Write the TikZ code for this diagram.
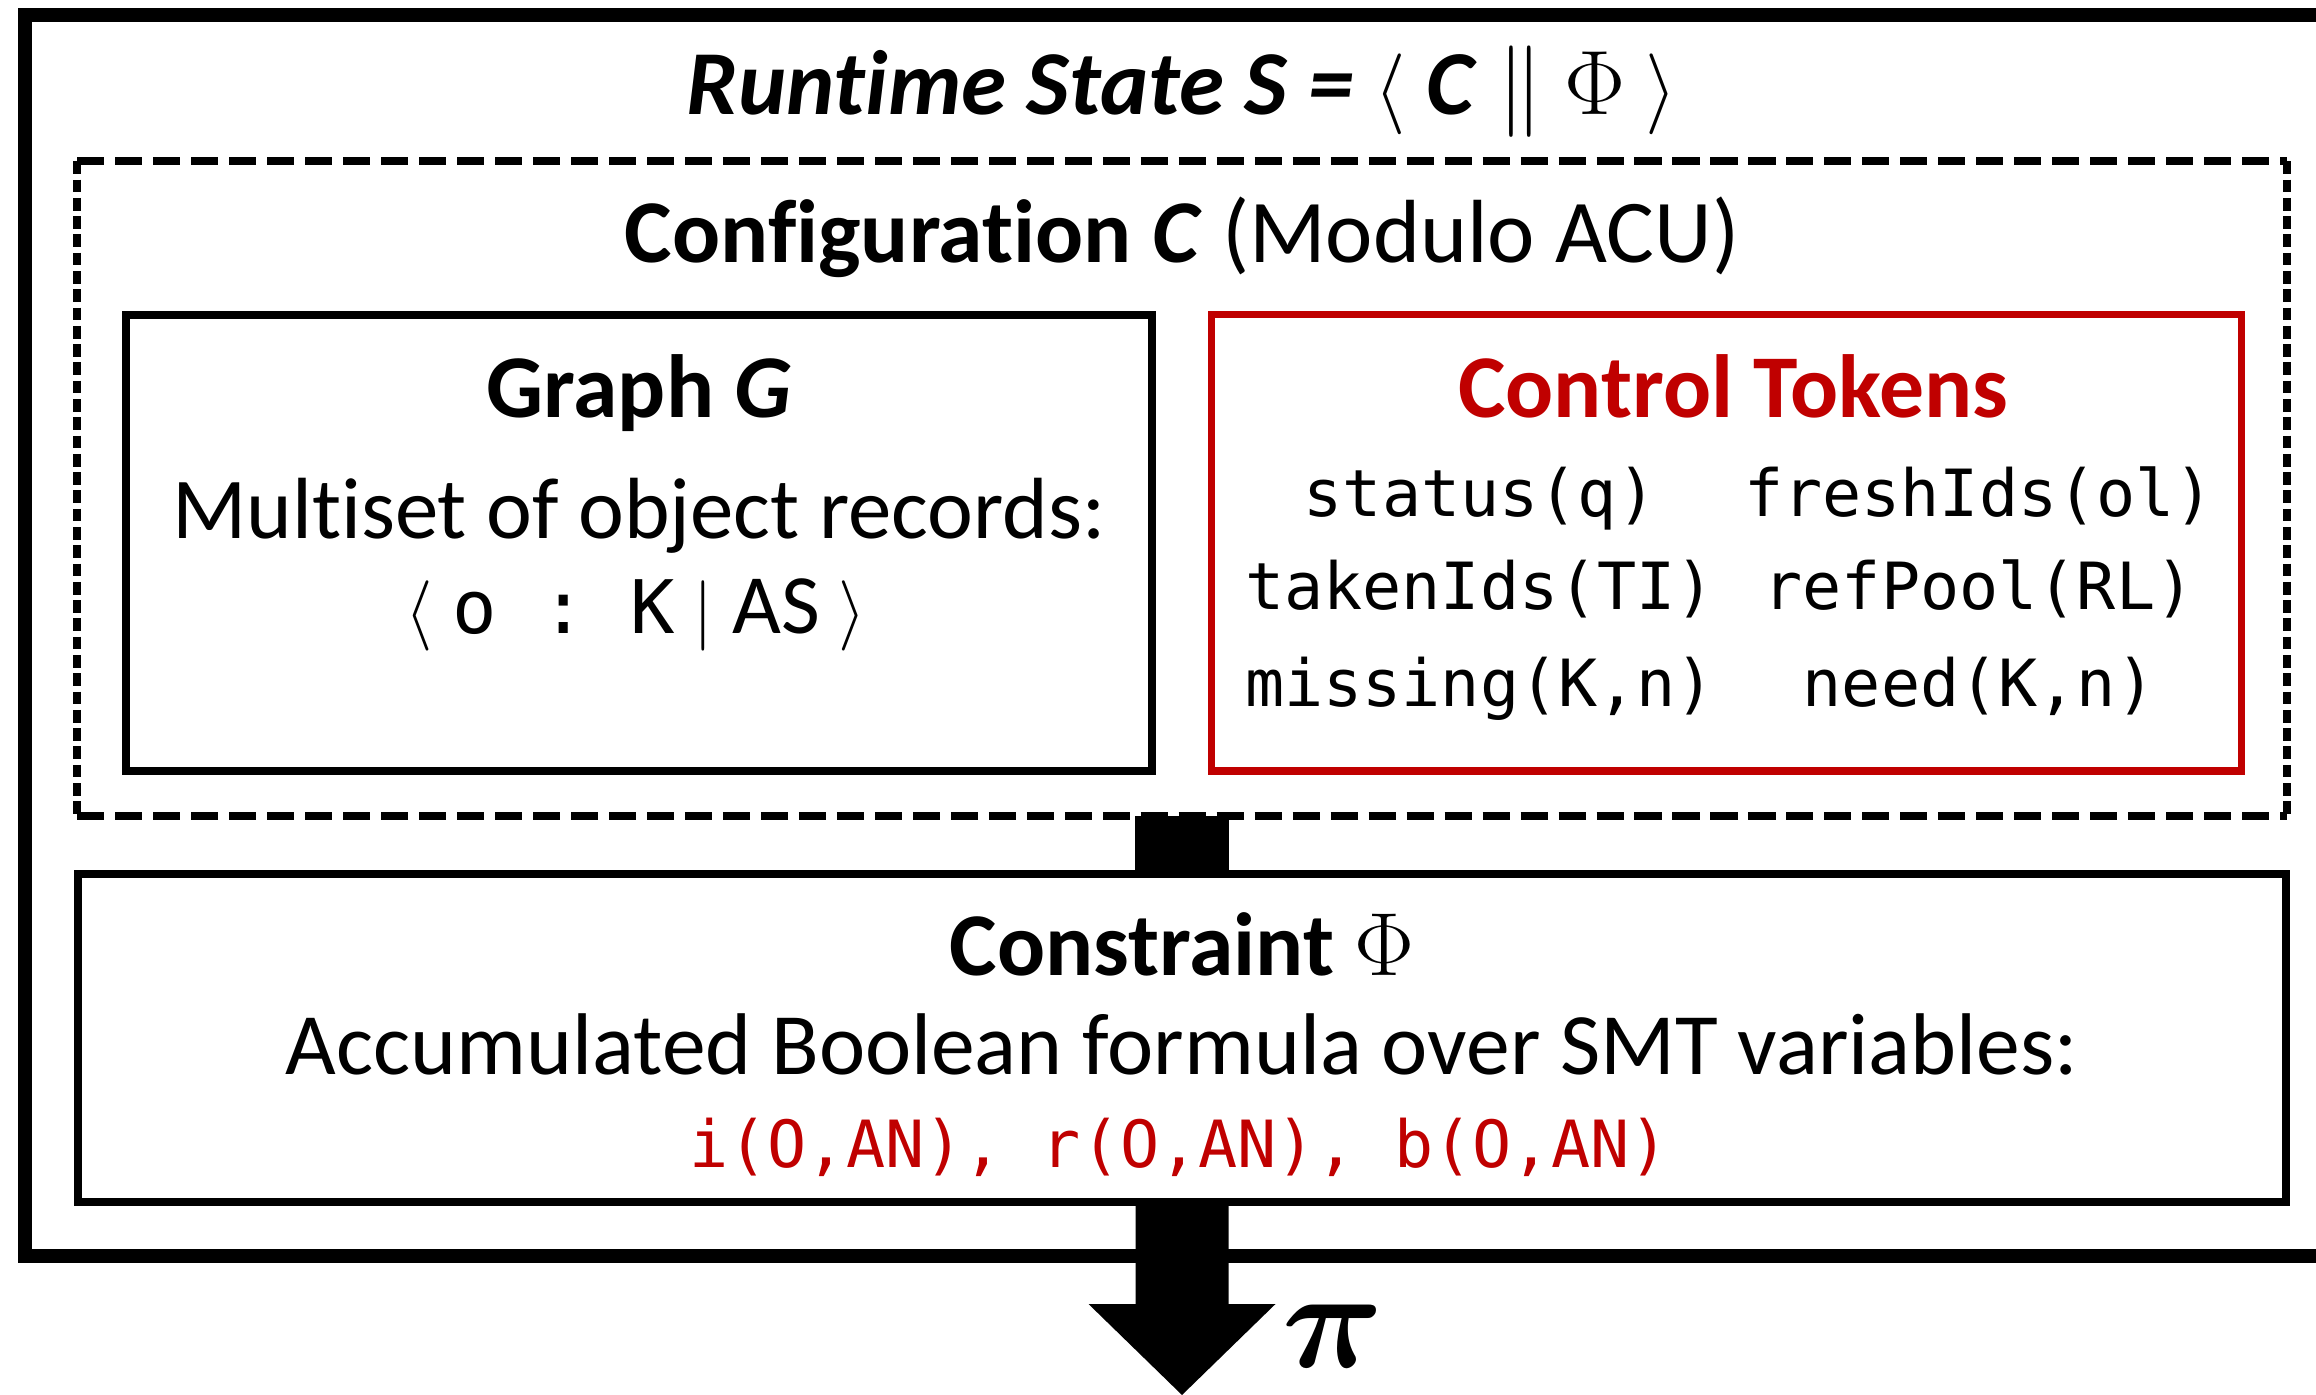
\RequirePackage{fix-cm}
\documentclass[tikz,border=0pt]{standalone}
\usepackage[no-math]{fontspec}
\setmainfont[Ligatures=NoCommon]{Carlito}
\setmonofont{DejaVu Sans Mono}
\usepackage{bm}
\usetikzlibrary{fit,calc}
\definecolor{tokred}{RGB}{192,0,0}

\tikzset{
  px/.style={line width=#1*0.2845pt},
  outerbox/.style={draw, px=14},
  plainbox/.style={draw, px=8, inner sep=0pt},
  redbox/.style={draw=tokred, px=7, inner sep=0pt},
  hdash/.style={px=8, dash pattern=on 7.7pt off 3.1pt},
  vdash/.style={px=8, dash pattern=on 3.6pt off 1.6pt},
  txt/.style={anchor=base, inner sep=0pt},
  big/.style={txt, font=\fontsize{25.5}{30}\selectfont},
  tok/.style={txt, font=\fontsize{18.5}{22}\selectfont\ttfamily},
  blockline/.style={px=93},
}
% angle brackets at a fixed size
\newcommand{\lang}[1]{{\fontsize{#1}{#1}\selectfont$\langle$}}
\newcommand{\rang}[1]{{\fontsize{#1}{#1}\selectfont$\rangle$}}

\begin{document}
\begin{tikzpicture}[x=0.01cm, y=-0.01cm]
\useasboundingbox (0,0) rectangle (2316,1395);
\clip (0,0) rectangle (2316,1395);
\fill[white] (0,0) rectangle (2316,1395);

% runtime state frame (runs past the right edge)
\draw[outerbox] (2400,15) -- (25,15) -- (25,1256) -- (2400,1256);
\node[txt, font=\fontsize{26}{30}\selectfont] (title) at (1182,115)
  {\textbf{\textit{Runtime State S =}} \lang{23} \textbf{\textit{C}} $\|$ $\Phi$ \rang{23}};

% configuration (dashed)
\node[inner sep=0pt, fit={(78,162) (2286,815)}] (cfg) {};
\draw[hdash] (cfg.north west) -- (cfg.north east);
\draw[hdash] (cfg.south west) -- (cfg.south east);
\draw[vdash] (cfg.north west) -- (cfg.south west);
\draw[vdash] (cfg.north east) -- (cfg.south east);
\node[big] (cfgtitle) at (1182,263)
  {\textbf{Configuration \textit{C}} (Modulo ACU)};

% graph G
\node[plainbox, fit={(126,315) (1152,771)}] (graph) {};
\node[big] (graphtitle) at (639,418) {\textbf{Graph \textit{G}}};
\node[txt, font=\fontsize{24.7}{28}\selectfont] (graphline) at (639,539) {Multiset of object records:};
\node[txt, font=\fontsize{24}{28}\selectfont] (graphrec) at (636,634)
  {\lang{20} {\ttfamily\fontsize{21}{24}\selectfont o : K} {\fontsize{20}{20}\selectfont$|$} AS \rang{20}};

% control tokens
\node[redbox, fit={(1211,315) (2241,771)}] (ctrl) {};
\node[big, text=tokred] (ctrltitle) at (1733,418) {\textbf{Control Tokens}};
\node[tok] (t11) at (1480,517) {status(q)};
\node[tok] (t12) at (1979,517) {freshIds(ol)};
\node[tok] (t21) at (1480,610) {takenIds(TI)};
\node[tok] (t22) at (1979,610) {refPool(RL)};
\node[tok] (t31) at (1480,706) {missing(K,n)};
\node[tok] (t32) at (1979,706) {need(K,n)};

% constraint
\node[plainbox, fit={(78,874) (2286,1202)}] (con) {};
\node[big] (contitle) at (1182,975) {\textbf{Constraint} $\Phi$};
\node[txt, font=\fontsize{24.9}{28}\selectfont] (conline) at (1182,1074) {Accumulated Boolean formula over SMT variables:};
\node[tok, text=tokred] (convars) at (1179,1167) {i(O,AN), r(O,AN), b(O,AN)};

% block connectors
\draw[blockline] (cfg.south) -- (con.north);
\coordinate (tip) at (1182,1395);
\fill ($(con.south)+(-46.5,0)$) -- ($(con.south)+(46.5,0)$)
  -- ($(tip)+(46.5,-91)$) -- ($(tip)+(93.5,-91)$) -- (tip)
  -- ($(tip)+(-93.5,-91)$) -- ($(tip)+(-46.5,-91)$) -- cycle;
\node[txt, anchor=base west] (pi) at (1282,1367)
  {\fontsize{40}{44}\selectfont$\bm{\pi}$};
\end{tikzpicture}
\end{document}
